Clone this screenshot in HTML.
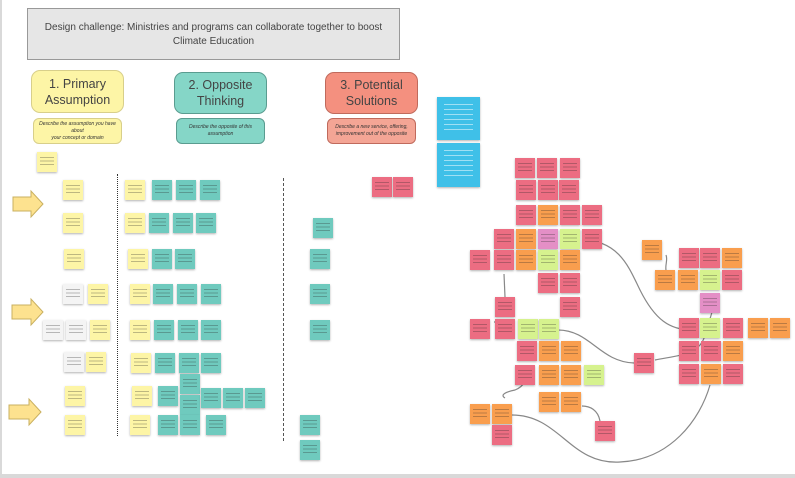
<!DOCTYPE html>
<html><head><meta charset="utf-8">
<style>
html,body{margin:0;padding:0;}
body{width:795px;height:478px;position:relative;overflow:hidden;background:#d9d9d9;font-family:"Liberation Sans",sans-serif;}
#board{position:absolute;left:2px;top:0;width:793px;height:474px;background:#fff;}
.n{position:absolute;width:20px;height:20px;box-shadow:0 1px 2px rgba(0,0,0,.3);font-size:3px;line-height:3.5px;color:transparent;overflow:hidden;box-sizing:border-box;}
.n::after{content:"";position:absolute;left:3px;right:3px;top:5px;bottom:5px;background:repeating-linear-gradient(to bottom,rgba(40,40,40,.3) 0 1px,transparent 1px 3.5px);}
.y{background:#fdf5a6}.t{background:#6fcabe}.p{background:#ec6d82}.o{background:#f99e4e}.g{background:#d6f28e}.v{background:#e48fc6}.w{background:#f4f4f4}.b{background:#3fc0e8}
.b::after{background:repeating-linear-gradient(to bottom,rgba(255,255,255,.5) 0 1px,transparent 1px 5px);left:7px;right:7px;top:7px;bottom:9px;}
.h{position:absolute;border-radius:9px;border:1px solid #b5b5a0;text-align:center;font-size:12.5px;color:#444;box-sizing:border-box;display:flex;align-items:center;justify-content:center;line-height:16px;}
.s{position:absolute;border-radius:6px;border:1px solid #aaa;text-align:center;font-size:5px;font-style:italic;color:#333;box-sizing:border-box;display:flex;align-items:center;justify-content:center;line-height:7px;}
.dl{position:absolute;width:0;border-left:1px dotted #333;}
</style></head><body>
<div id="board"></div>
<div style="position:absolute;left:27px;top:8px;width:373px;height:52px;background:#e6e6e6;border:1px solid #999;box-sizing:border-box;font-size:10px;color:#444;text-align:center;padding-top:12px;line-height:14px;">Design challenge: Ministries and programs can collaborate together to boost<br>Climate Education</div>

<div class="h" style="left:31px;top:70px;width:93px;height:43px;background:#fdf5a6;border-color:#d8cf8a">1. Primary<br>Assumption</div>
<div class="s" style="left:33px;top:118px;width:89px;height:26px;background:#fdf5a6;border-color:#d8cf8a">Describe the assumption you have about<br>your concept or domain</div>
<div class="h" style="left:174px;top:72px;width:93px;height:42px;background:#85d6c7;border-color:#5a9c90">2. Opposite<br>Thinking</div>
<div class="s" style="left:176px;top:118px;width:89px;height:26px;background:#85d6c7;border-color:#5a9c90">Describe the opposite of this assumption</div>
<div class="h" style="left:325px;top:72px;width:93px;height:42px;background:#f4907f;border-color:#c06a5c">3. Potential<br>Solutions</div>
<div class="s" style="left:327px;top:118px;width:89px;height:26px;background:#f4a595;border-color:#c06a5c">Describe a new service, offering,<br>improvement out of the opposite</div>

<div class="n b" style="left:437px;top:97px;width:43px;height:43px">what connections and common action items can ministries find to work more closely together</div>
<div class="n b" style="left:437px;top:143px;width:43px;height:44px">how do these opportunities link to a wider climate education goal</div>

<div class="dl" style="left:117px;top:174px;height:262px"></div>
<div class="dl" style="left:283px;top:178px;height:263px;border-left:1px dashed #555"></div>

<svg style="position:absolute;left:0;top:0" width="795" height="478">
<g fill="#fde28f" stroke="#c9b060" stroke-width="1">
<polygon points="13,197 31,197 31,191 43,204 31,217 31,211 13,211"/>
<polygon points="12,305 31,305 31,299 43,312 31,325 31,319 12,319"/>
<polygon points="9,405 29,405 29,399 41,412 29,425 29,419 9,419"/>
</g>
<g fill="none" stroke="#888" stroke-width="1.2">
<path d="M582,240 C620,240 630,270 640,290 C655,320 670,330 692,330"/>
<path d="M558,330 C590,330 600,362 634,363"/>
<path d="M655,360 C680,355 700,355 705,335 C710,320 715,300 718,295"/>
<path d="M512,415 C560,415 570,465 620,462 C670,460 700,420 710,385"/>
<path d="M504,274 L505,297"/>
<path d="M500,322 L494,322"/>
<path d="M505,398 C500,395 505,392 515,390 C520,388 523,385 524,382"/>
<path d="M582,406 C590,406 598,410 600,421"/>
<path d="M666,255 C668,260 665,265 666,270"/>
</g>
</svg>

<div class="n y" style="left:37px;top:152px">.</div>
<div class="n y" style="left:63px;top:180px">.</div>
<div class="n y" style="left:63px;top:213px">.</div>
<div class="n y" style="left:64px;top:249px">.</div>
<div class="n w" style="left:63px;top:284px">.</div>
<div class="n y" style="left:88px;top:284px">.</div>
<div class="n w" style="left:43px;top:320px">.</div>
<div class="n w" style="left:66px;top:320px">.</div>
<div class="n y" style="left:90px;top:320px">.</div>
<div class="n w" style="left:64px;top:352px">.</div>
<div class="n y" style="left:86px;top:352px">.</div>
<div class="n y" style="left:65px;top:386px">.</div>
<div class="n y" style="left:65px;top:415px">.</div>

<div class="n y" style="left:125px;top:180px">.</div>
<div class="n y" style="left:125px;top:213px">.</div>
<div class="n y" style="left:128px;top:249px">.</div>
<div class="n y" style="left:130px;top:284px">.</div>
<div class="n y" style="left:130px;top:320px">.</div>
<div class="n y" style="left:131px;top:353px">.</div>
<div class="n y" style="left:132px;top:386px">.</div>
<div class="n y" style="left:130px;top:415px">.</div>
<div class="n t" style="left:152px;top:180px">.</div>
<div class="n t" style="left:176px;top:180px">.</div>
<div class="n t" style="left:200px;top:180px">.</div>
<div class="n t" style="left:149px;top:213px">.</div>
<div class="n t" style="left:173px;top:213px">.</div>
<div class="n t" style="left:196px;top:213px">.</div>
<div class="n t" style="left:152px;top:249px">.</div>
<div class="n t" style="left:175px;top:249px">.</div>
<div class="n t" style="left:153px;top:284px">.</div>
<div class="n t" style="left:177px;top:284px">.</div>
<div class="n t" style="left:201px;top:284px">.</div>
<div class="n t" style="left:154px;top:320px">.</div>
<div class="n t" style="left:178px;top:320px">.</div>
<div class="n t" style="left:201px;top:320px">.</div>
<div class="n t" style="left:155px;top:353px">.</div>
<div class="n t" style="left:179px;top:353px">.</div>
<div class="n t" style="left:201px;top:353px">.</div>
<div class="n t" style="left:158px;top:386px">.</div>
<div class="n t" style="left:180px;top:374px">.</div>
<div class="n t" style="left:180px;top:395px">.</div>
<div class="n t" style="left:201px;top:388px">.</div>
<div class="n t" style="left:223px;top:388px">.</div>
<div class="n t" style="left:245px;top:388px">.</div>
<div class="n t" style="left:158px;top:415px">.</div>
<div class="n t" style="left:180px;top:415px">.</div>
<div class="n t" style="left:206px;top:415px">.</div>

<div class="n t" style="left:313px;top:218px">.</div>
<div class="n t" style="left:310px;top:249px">.</div>
<div class="n t" style="left:310px;top:284px">.</div>
<div class="n t" style="left:310px;top:320px">.</div>
<div class="n t" style="left:300px;top:415px">.</div>
<div class="n t" style="left:300px;top:440px">.</div>
<div class="n p" style="left:372px;top:177px">.</div>
<div class="n p" style="left:393px;top:177px">.</div>

<div class="n p" style="left:515px;top:158px">.</div>
<div class="n p" style="left:537px;top:158px">.</div>
<div class="n p" style="left:560px;top:158px">.</div>
<div class="n p" style="left:516px;top:180px">.</div>
<div class="n p" style="left:538px;top:180px">.</div>
<div class="n p" style="left:559px;top:180px">.</div>
<div class="n p" style="left:516px;top:205px">.</div>
<div class="n o" style="left:538px;top:205px">.</div>
<div class="n p" style="left:560px;top:205px">.</div>
<div class="n p" style="left:582px;top:205px">.</div>
<div class="n p" style="left:494px;top:229px">.</div>
<div class="n o" style="left:516px;top:229px">.</div>
<div class="n v" style="left:538px;top:229px">.</div>
<div class="n g" style="left:560px;top:229px">.</div>
<div class="n p" style="left:582px;top:229px">.</div>
<div class="n p" style="left:470px;top:250px">.</div>
<div class="n p" style="left:494px;top:250px">.</div>
<div class="n o" style="left:516px;top:250px">.</div>
<div class="n g" style="left:538px;top:250px">.</div>
<div class="n o" style="left:560px;top:250px">.</div>
<div class="n p" style="left:538px;top:273px">.</div>
<div class="n p" style="left:560px;top:273px">.</div>
<div class="n p" style="left:560px;top:297px">.</div>
<div class="n p" style="left:495px;top:297px">.</div>
<div class="n p" style="left:470px;top:319px">.</div>
<div class="n p" style="left:495px;top:319px">.</div>
<div class="n g" style="left:518px;top:319px">.</div>
<div class="n g" style="left:539px;top:319px">.</div>
<div class="n p" style="left:517px;top:341px">.</div>
<div class="n o" style="left:539px;top:341px">.</div>
<div class="n o" style="left:561px;top:341px">.</div>
<div class="n p" style="left:515px;top:365px">.</div>
<div class="n o" style="left:539px;top:365px">.</div>
<div class="n o" style="left:561px;top:365px">.</div>
<div class="n g" style="left:584px;top:365px">.</div>
<div class="n o" style="left:539px;top:392px">.</div>
<div class="n o" style="left:561px;top:392px">.</div>
<div class="n o" style="left:470px;top:404px">.</div>
<div class="n o" style="left:492px;top:404px">.</div>
<div class="n p" style="left:492px;top:425px">.</div>
<div class="n p" style="left:595px;top:421px">.</div>
<div class="n p" style="left:634px;top:353px">.</div>

<div class="n o" style="left:642px;top:240px">.</div>
<div class="n p" style="left:679px;top:248px">.</div>
<div class="n p" style="left:700px;top:248px">.</div>
<div class="n o" style="left:722px;top:248px">.</div>
<div class="n o" style="left:655px;top:270px">.</div>
<div class="n o" style="left:678px;top:270px">.</div>
<div class="n g" style="left:700px;top:270px">.</div>
<div class="n p" style="left:722px;top:270px">.</div>
<div class="n v" style="left:700px;top:293px">.</div>
<div class="n p" style="left:679px;top:318px">.</div>
<div class="n g" style="left:700px;top:318px">.</div>
<div class="n p" style="left:723px;top:318px">.</div>
<div class="n o" style="left:748px;top:318px">.</div>
<div class="n o" style="left:770px;top:318px">.</div>
<div class="n p" style="left:679px;top:341px">.</div>
<div class="n p" style="left:701px;top:341px">.</div>
<div class="n o" style="left:723px;top:341px">.</div>
<div class="n p" style="left:679px;top:364px">.</div>
<div class="n o" style="left:701px;top:364px">.</div>
<div class="n p" style="left:723px;top:364px">.</div>
</body></html>
